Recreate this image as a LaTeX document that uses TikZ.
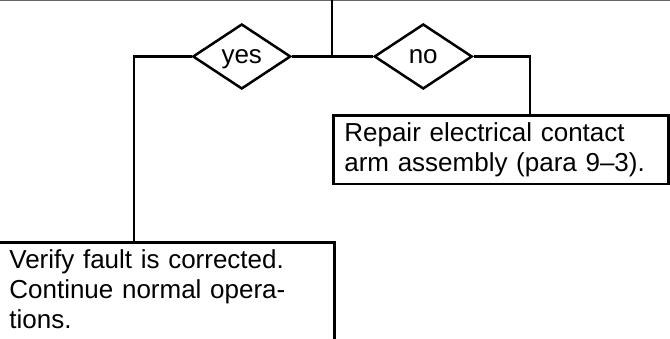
\documentclass[tikz,border=0pt]{standalone}
\usepackage{fontspec}
\setmainfont{Liberation Sans}
\usetikzlibrary{positioning,shapes.geometric}

\begin{document}
\begin{tikzpicture}[
  x=1pt,y=1pt,
  line width=2.5pt,
  node distance=40pt,
  dec/.style={draw,diamond,inner sep=0pt,minimum width=98pt,minimum height=65pt,
              text height=13.5pt,text depth=0pt,
              font=\fontsize{26}{30}\selectfont},
  box/.style={draw,rectangle,line width=2.7pt,inner xsep=11pt,inner ysep=7pt,
              align=left,font=\fontsize{26}{30}\selectfont}]
  \useasboundingbox (0,0) rectangle (670,339);
  \clip (0,0) rectangle (670,339);
  \draw[black!60,line width=1.5pt] (0,338.5) -- (670,338.5);
  \coordinate (upper) at (332,339);
  \coordinate (jct) at (332,282.5);
  \node[dec,left=of jct] (yes) {yes};
  \node[dec,right=41pt of jct] (no) {no};
  \coordinate (ybend) at (134,282.5);
  \coordinate (nbend) at (530,282.5);
  \node[box,text width=313pt,anchor=north west] (repair) at (332,224.5)
       {Repair electrical contact\\arm assembly (para 9--3).};
  \node[box,text width=314pt,anchor=north west] (verify) at (-3,98)
       {Verify fault is corrected.\\Continue normal opera-\\tions.\rule[-12pt]{0pt}{12pt}};
  \draw (upper) -- (jct);
  \draw (yes.east) -- (jct) -- (no.west);
  \draw (yes.west) -- (ybend) -- (ybend |- verify.north);
  \draw (no.east) -- (nbend) -- (nbend |- repair.north);
\end{tikzpicture}
\end{document}
